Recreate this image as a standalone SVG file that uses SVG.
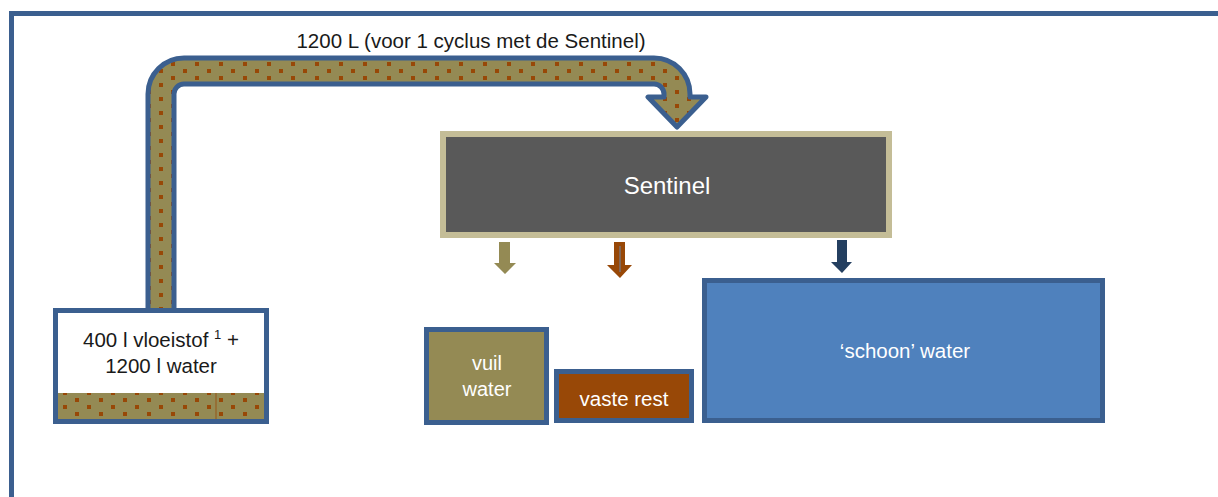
<svg xmlns="http://www.w3.org/2000/svg" width="1218" height="497" viewBox="0 0 1218 497">
<style>
text{font-family:"Liberation Sans",Arial,sans-serif;text-anchor:middle}
.w{fill:#ffffff}
.k{fill:#1a1a1a}
.blue{stroke:#3B5F8F;stroke-width:5}
</style>
<defs>
<pattern id="dots" patternUnits="userSpaceOnUse" width="24" height="14" x="3" y="6">
<rect width="24" height="14" fill="#948A54"/>
<rect x="0" y="0" width="4" height="4" fill="#984807"/>
<rect x="12" y="7" width="4" height="4" fill="#984807"/>
</pattern>
</defs>
<rect width="1218" height="497" fill="#ffffff"/>
<path d="M11.5,500 V13.5 H1225" fill="none" stroke="#3B5F8F" stroke-width="5"/>
<g id="connectors">
<path id="pipe" d="M148,312 V94 A36,36 0 0 1 184,58 H654 A36,36 0 0 1 690,94 V97 H706 L677,127 L648,97 H664 V94 A10,10 0 0 0 654,84 H184 A10,10 0 0 0 174,94 V312 Z" fill="url(#dots)" stroke="#3B5F8F" stroke-width="5" stroke-linejoin="round"/>
<polygon points="499,242 510,242 510,263 516,263 505,274 494,263 499,263" fill="#948A54"/>
<polygon points="614,242 625,242 625,265 632,265 620,278 607,265 614,265" fill="#984807"/>
<line x1="620" y1="246" x2="620" y2="272" stroke="#6f87a8" stroke-width="1"/>
<polygon points="837,240 847,240 847,262 852,262 842,273 831,262 837,262" fill="#243F60"/>
</g>
<text x="471" y="48" font-size="20.5" class="k">1200 L (voor 1 cyclus met de Sentinel)</text>
<g id="source">
<rect x="55.5" y="310.5" width="211" height="111" fill="#ffffff" class="blue"/>
<rect x="58" y="393" width="206" height="26" fill="url(#dots)"/>
<line x1="216" y1="393" x2="216" y2="419" stroke="#984807" stroke-width="0.8"/>
<text x="161" y="347" font-size="20.5" class="k">400 l vloeistof <tspan font-size="13" dy="-8">1</tspan><tspan dy="8"> +</tspan></text>
<text x="161" y="373" font-size="20.5" class="k">1200 l water</text>
</g>
<g id="sentinel">
<rect x="443" y="134" width="446" height="101" fill="#595959" stroke="#C4BD97" stroke-width="6"/>
<text x="667" y="194" font-size="24" class="w">Sentinel</text>
</g>
<g id="vuil">
<rect x="426.5" y="329.5" width="120" height="93" fill="#948A54" class="blue"/>
<text x="487" y="370" font-size="20" class="w">vuil</text>
<text x="487" y="396" font-size="20" class="w">water</text>
</g>
<g id="vaste">
<rect x="556.5" y="371.5" width="135" height="49" fill="#984807" class="blue"/>
<text x="624" y="406" font-size="20.5" class="w">vaste rest</text>
</g>
<g id="schoon">
<rect x="704.5" y="280.5" width="398" height="140" fill="#4F81BD" class="blue"/>
<text x="905" y="358" font-size="20.5" class="w">‘schoon’ water</text>
</g>
</svg>
